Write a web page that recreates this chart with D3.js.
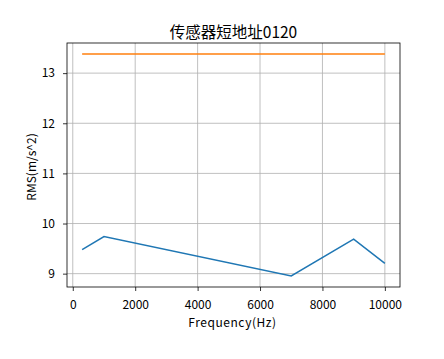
<!DOCTYPE html>
<html><head><meta charset="utf-8">
<script src="https://cdn.jsdelivr.net/npm/d3@7"></script>
<style>body{margin:0;background:#fff;} svg{display:block;} text{font-family:"Noto Sans CJK SC","DejaVu Sans",sans-serif;}</style>
</head><body>
<svg id="c" width="444" height="359"></svg>
<script>
const title = "传感器短地址0120";
const xLabel = "Frequency(Hz)";
const yLabel = "RMS(m/s^2)";
const freqs = [300, 1000, 7000, 9000, 10000];
const rmsValues = [9.48, 9.74, 8.955, 9.69, 9.205];
const limitFreqs = [300, 10000];
const limitValues = [13.38, 13.38];
const xTicks = [0, 2000, 4000, 6000, 8000, 10000];
const yTicks = [9, 10, 11, 12, 13];

const svg = d3.select("#c");
const L = 67, R = 400, T = 43, B = 287;
const allY = rmsValues.concat(limitValues);
const yMin = d3.min(allY), yMax = d3.max(allY), yPad = (yMax - yMin) * 0.05;
const xMin = d3.min(freqs), xMax = d3.max(freqs), xPad = (xMax - xMin) * 0.05;
const x = d3.scaleLinear().domain([xMin - xPad, xMax + xPad]).range([L, R]);
const y = d3.scaleLinear().domain([yMin - yPad, yMax + yPad]).range([B, T]);

// grid
svg.append("g").selectAll("line").data(xTicks).join("line")
  .attr("x1", d => x(d)).attr("x2", d => x(d)).attr("y1", T).attr("y2", B)
  .attr("stroke", "#b0b0b0").attr("stroke-width", 0.8);
svg.append("g").selectAll("line").data(yTicks).join("line")
  .attr("y1", d => y(d)).attr("y2", d => y(d)).attr("x1", L).attr("x2", R)
  .attr("stroke", "#b0b0b0").attr("stroke-width", 0.8);

const line = d3.line().x(d => x(d[0])).y(d => y(d[1]));
svg.append("path").datum(freqs.map((f, i) => [f, rmsValues[i]]))
  .attr("d", line).attr("fill", "none").attr("stroke", "#1f77b4").attr("stroke-width", 1.5);
svg.append("path").datum(limitFreqs.map((f, i) => [f, limitValues[i]]))
  .attr("d", line).attr("fill", "none").attr("stroke", "#ff7f0e").attr("stroke-width", 1.5);

// axes
const xAxis = d3.axisBottom(x).tickValues(xTicks).tickSize(4).tickPadding(9).tickFormat(d3.format("d"));
const gx = svg.append("g").attr("transform", `translate(0,${B})`).call(xAxis);
const yAxis = d3.axisLeft(y).tickValues(yTicks).tickSize(4).tickPadding(8).tickFormat(d3.format("d"));
const gy = svg.append("g").attr("transform", `translate(${L},0)`).call(yAxis);
[gx, gy].forEach(g => {
  g.select(".domain").remove();
  g.selectAll("text").attr("font-size", 12).attr("fill", "#000").attr("font-family", "\"Noto Sans CJK SC\", sans-serif");
  g.selectAll("line").attr("stroke", "#000").attr("stroke-width", 0.8);
});

svg.append("rect").attr("x", L).attr("y", T).attr("width", R - L).attr("height", B - T)
  .attr("fill", "none").attr("stroke", "#000").attr("stroke-width", 0.8);

svg.append("text").attr("x", (L + R) / 2).attr("y", 37.5).attr("text-anchor", "middle")
  .attr("font-size", 15.5).text(title);
svg.append("text").attr("x", (L + R) / 2 - 1).attr("y", 327).attr("text-anchor", "middle")
  .attr("font-size", 12).attr("letter-spacing", 0.55).text(xLabel);
svg.append("text").attr("transform", `translate(36,167) rotate(-90)`).attr("text-anchor", "middle")
  .attr("font-size", 12).text(yLabel);
</script>
</body></html>
